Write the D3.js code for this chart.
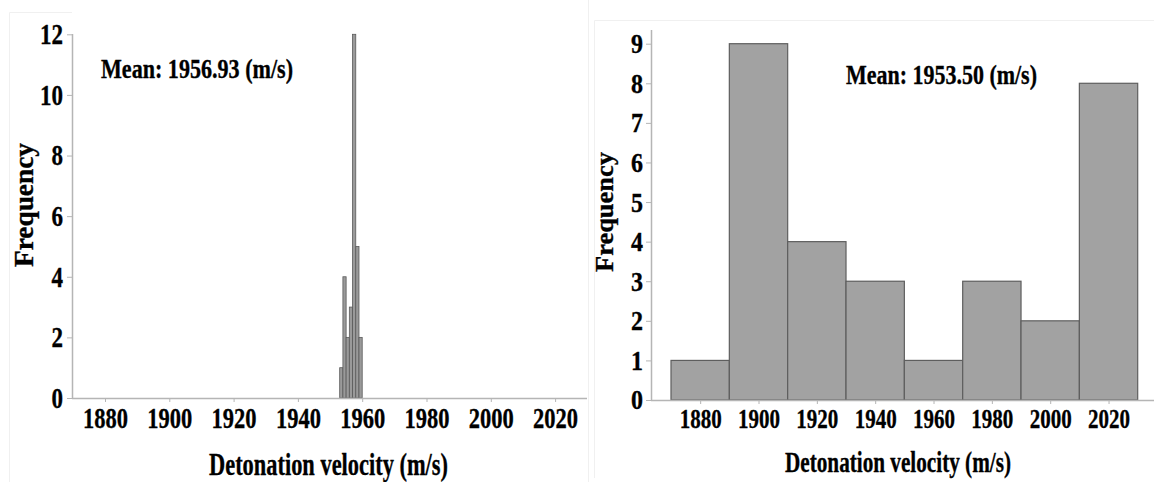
<!DOCTYPE html>
<html>
<head>
<meta charset="utf-8">
<script src="https://cdn.jsdelivr.net/npm/d3@7"></script>
<style>
  html, body { margin: 0; padding: 0; background: #fff; }
  svg { display: block; }
  text { font-family: "Liberation Serif", "Times New Roman", serif; font-weight: bold; fill: #000; stroke: #000; stroke-width: 0.35px; }
</style>
</head>
<body>
<svg id="chart" width="1154" height="482"></svg>
<script>
// Left histogram: narrow 1 m/s bins
const leftBinEdges = [1953, 1954, 1955, 1956, 1957, 1958, 1959, 1960];
const leftCounts = [1, 4, 2, 3, 12, 5, 2];
const leftYTicks = [0, 2, 4, 6, 8, 10, 12];
const leftMean = "Mean: 1956.93 (m/s)";

// Right histogram: 20 m/s bins
const rightBinEdges = [1870, 1890, 1910, 1930, 1950, 1970, 1990, 2010, 2030];
const rightCounts = [1, 9, 4, 3, 1, 3, 2, 8];
const rightYTicks = [0, 1, 2, 3, 4, 5, 6, 7, 8, 9];
const rightMean = "Mean: 1953.50 (m/s)";

const xTicks = [1880, 1900, 1920, 1940, 1960, 1980, 2000, 2020];
const xTitle = "Detonation velocity (m/s)";
const yTitle = "Frequency";

const svg = d3.select("#chart");

// faint panel frames
const frame = svg.append("g").attr("stroke", "#f0f0f0").attr("fill", "none");
frame.append("path").attr("d", "M9.5,482 V12.5 H72");
frame.append("line").attr("x1", 588.5).attr("x2", 588.5).attr("y1", 0).attr("y2", 482);
frame.append("path").attr("d", "M594.5,478 V20.5 H1154");

function panel(cfg) {
  const g = svg.append("g");
  const x = d3.scaleLinear().domain([1870, 2030]).range(cfg.xRange);
  const y = d3.scaleLinear().domain([0, cfg.yMax]).range([cfg.y0, cfg.yTop]);

  const bins = cfg.counts.map((c, i) => ({ x0: cfg.edges[i], x1: cfg.edges[i + 1], n: c }));

  // bars
  g.append("g").selectAll("rect").data(bins).join("rect")
    .attr("x", d => x(d.x0))
    .attr("y", d => y(d.n))
    .attr("width", d => x(d.x1) - x(d.x0))
    .attr("height", d => y(0) - y(d.n))
    .attr("fill", cfg.fill)
    .attr("stroke", cfg.stroke)
    .attr("stroke-width", cfg.strokeWidth);

  // x axis
  const xa = g.append("g").attr("transform", `translate(0,${cfg.y0})`)
    .call(d3.axisBottom(x).tickValues(xTicks).tickFormat(d3.format("d")).tickSize(4).tickSizeOuter(0));
  xa.select(".domain").remove();
  xa.selectAll(".tick line").attr("stroke", "#b5b5b5");
  xa.selectAll(".tick text")
    .attr("y", 0).attr("dy", null)
    .attr("transform", `translate(0,${cfg.xLabelY})`)
    .style("font-size", cfg.tickFont + "px")
    .attr("textLength", d => String(d).length * cfg.xDigitW)
    .attr("lengthAdjust", "spacingAndGlyphs");
  g.append("line")
    .attr("x1", cfg.xLine[0]).attr("x2", cfg.xLine[1])
    .attr("y1", cfg.y0 + 0.5).attr("y2", cfg.y0 + 0.5)
    .attr("stroke", "#b5b5b5").attr("stroke-width", 1.5);

  // y axis
  const ya = g.append("g").attr("transform", `translate(${cfg.yAxisX},0)`)
    .call(d3.axisLeft(y).tickValues(cfg.yTicks).tickFormat(d3.format("d")).tickSize(5).tickSizeOuter(0));
  ya.select(".domain").remove();
  ya.selectAll(".tick line").attr("stroke", "#b5b5b5");
  ya.selectAll(".tick text")
    .attr("x", -cfg.yLabelGap).attr("dy", null)
    .attr("transform", `translate(0,${cfg.tickFont * 0.32})`)
    .style("font-size", cfg.tickFont + "px")
    .attr("textLength", d => String(d).length * cfg.yDigitW)
    .attr("lengthAdjust", "spacingAndGlyphs");
  g.append("line")
    .attr("x1", cfg.yAxisX + 0.5).attr("x2", cfg.yAxisX + 0.5)
    .attr("y1", cfg.yLineTop).attr("y2", cfg.y0)
    .attr("stroke", "#b5b5b5").attr("stroke-width", 1.5);

  // axis titles
  g.append("text")
    .attr("x", cfg.xTitle[0]).attr("y", cfg.xTitle[1])
    .attr("text-anchor", "middle")
    .style("font-size", cfg.xTitleFont + "px")
    .attr("textLength", cfg.xTitleW).attr("lengthAdjust", "spacingAndGlyphs")
    .text(xTitle);
  g.append("text")
    .attr("transform", `translate(${cfg.yTitle[0]},${cfg.yTitle[1]}) rotate(-90)`)
    .attr("text-anchor", "middle")
    .style("font-size", cfg.yTitleFont + "px")
    .attr("textLength", cfg.yTitleW).attr("lengthAdjust", "spacingAndGlyphs")
    .text(yTitle);

  // mean annotation
  g.append("text")
    .attr("x", cfg.mean[0]).attr("y", cfg.mean[1])
    .style("font-size", cfg.meanFont + "px")
    .attr("textLength", cfg.meanW).attr("lengthAdjust", "spacingAndGlyphs")
    .text(cfg.meanText);
}

panel({
  edges: leftBinEdges, counts: leftCounts, yTicks: leftYTicks, yMax: 12,
  xRange: [72.85, 587.25], y0: 398, yTop: 34.3, yLineTop: 34,
  xLine: [72, 587], yAxisX: 72,
  fill: "#9a9a9a", stroke: "#5a5a5a", strokeWidth: 0.8,
  tickFont: 29, xLabelY: 30, xDigitW: 11.25, yDigitW: 11.5, yLabelGap: 9,
  xTitle: [328.5, 475], xTitleW: 239, xTitleFont: 31,
  yTitle: [33, 205], yTitleW: 124, yTitleFont: 27,
  mean: [101, 78], meanW: 192, meanFont: 28, meanText: leftMean
});

panel({
  edges: rightBinEdges, counts: rightCounts, yTicks: rightYTicks, yMax: 9,
  xRange: [671, 1137.7], y0: 400, yTop: 43.7, yLineTop: 30,
  xLine: [651, 1154], yAxisX: 651,
  fill: "#a2a2a2", stroke: "#5e5e5e", strokeWidth: 1.2,
  tickFont: 28, xLabelY: 28, xDigitW: 10.5, yDigitW: 12, yLabelGap: 8,
  xTitle: [898, 472], xTitleW: 226, xTitleFont: 29,
  yTitle: [613, 212], yTitleW: 120, yTitleFont: 25,
  mean: [846, 84], meanW: 191, meanFont: 27, meanText: rightMean
});
</script>
</body>
</html>
